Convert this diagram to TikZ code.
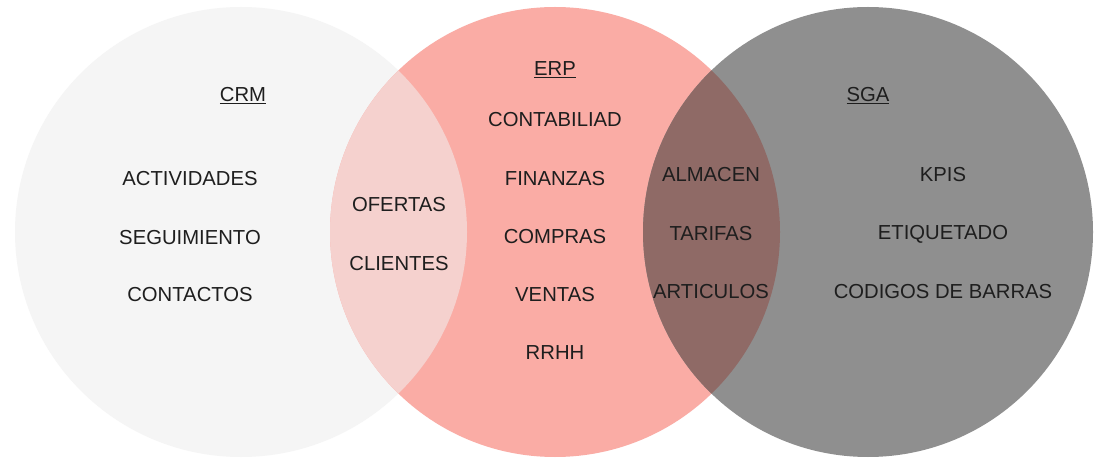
\documentclass[tikz,border=0pt]{standalone}
\usepackage{fontspec}
\setmainfont{Liberation Sans}
\definecolor{crmc}{HTML}{F5F5F5}
\definecolor{erpc}{HTML}{FAACA5}
\definecolor{sgac}{HTML}{8F8F8F}
\definecolor{lmc}{HTML}{F5D1CE}
\definecolor{mrc}{HTML}{8F6A66}
\definecolor{txt}{HTML}{1E1E1E}
\begin{document}
\begin{tikzpicture}[x=0.75pt,y=-0.75pt,
  lbl/.style={text=txt, font=\fontsize{15.2}{18}\selectfont, inner sep=0pt, anchor=center}]
\useasboundingbox (0,0) rectangle (1109,459);
\fill[white] (0,0) rectangle (1109,459);
% sets
\fill[crmc] (241,232) ellipse [x radius=226, y radius=225];
\fill[erpc] (555,232) ellipse [x radius=225, y radius=225];
\fill[sgac] (868,232) ellipse [x radius=225, y radius=225];
\begin{scope}
  \clip (241,232) ellipse [x radius=226, y radius=225];
  \fill[lmc] (555,232) ellipse [x radius=225, y radius=225];
\end{scope}
\begin{scope}
  \clip (555,232) ellipse [x radius=225, y radius=225];
  \fill[mrc] (868,232) ellipse [x radius=225, y radius=225];
\end{scope}
% titles
\node[lbl] (crm) at (243,96) {\underline{CRM}};
\node[lbl] (erp) at (555,70) {\underline{ERP}};
\node[lbl] (sga) at (868,96) {\underline{SGA}};
% CRM
\node[lbl] (act) at (190,179) {ACTIVIDADES};
\node[lbl] (seg) at (190,238) {SEGUIMIENTO};
\node[lbl] (con) at (190,295) {CONTACTOS};
% CRM-ERP
\node[lbl] (ofe) at (399,205) {OFERTAS};
\node[lbl] (cli) at (399,264) {CLIENTES};
% ERP
\node[lbl] (cnt) at (555,120) {CONTABILIAD};
\node[lbl] (fin) at (555,179) {FINANZAS};
\node[lbl] (com) at (555,237) {COMPRAS};
\node[lbl] (ven) at (555,295) {VENTAS};
\node[lbl] (rrh) at (555,353) {RRHH};
% ERP-SGA
\node[lbl] (alm) at (711,175) {ALMACEN};
\node[lbl] (tar) at (711,234) {TARIFAS};
\node[lbl] (art) at (711,292) {ARTICULOS};
% SGA
\node[lbl] (kpi) at (943,175) {KPIS};
\node[lbl] (eti) at (943,234) {ETIQUETADO};
\node[lbl] (cod) at (943,292) {CODIGOS DE BARRAS};
\end{tikzpicture}
\end{document}
